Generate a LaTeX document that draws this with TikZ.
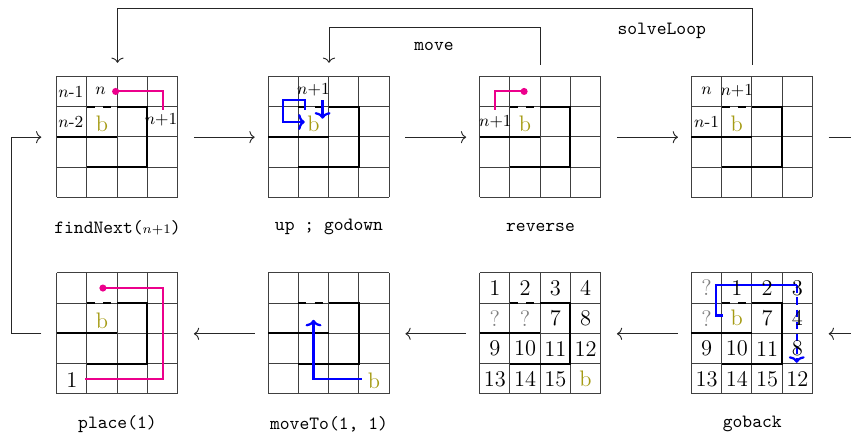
\documentclass[tikz,border=0pt]{standalone}
\usetikzlibrary{arrows.meta}
\definecolor{magcol}{RGB}{236,0,140}
\definecolor{bcol}{RGB}{165,155,20}
\definecolor{qgray}{RGB}{128,128,128}
\tikzset{
  gridbox/.style={draw=none, minimum size=64.7pt, inner sep=0pt},
  cellline/.style={draw=black!75, line width=0.5pt},
  wallline/.style={draw=black, line width=1.1pt},
  walldash/.style={wallline, dash pattern=on 4.2pt off 4.5pt},
  magpath/.style={draw=magcol, line width=1.1pt},
  bluesolid/.style={draw=blue, line width=1.2pt},
  bluepath/.style={bluesolid, -{To[width=8.5pt,length=3.5pt]}},
  nlab/.style={font=\small, inner sep=0pt},
  bigtxt/.style={font=\large, inner sep=0pt},
  caption/.style={font=\ttfamily, inner sep=0pt},
  flow/.style={draw=black!85, line width=0.5pt},
  flowarrow/.style={flow, -{To[width=6.5pt,length=2.8pt]}},
}
\newcommand{\drawcells}{%
  \foreach \k in {0,...,4} {\draw[cellline] (\k,0) -- (\k,4); \draw[cellline] (0,\k) -- (4,\k);}
  \draw[wallline] (2,1) -- (3,1) -- (3,3) -- (1,3);
  \draw[wallline] (0,2) -- (2,2);
  \draw[walldash] (1,1) -- (2,1);
}
\begin{document}
\begin{tikzpicture}[x=0.5347pt, y=-0.5347pt]
\useasboundingbox (0,0) rectangle (851,435);
\clip (0,0) rectangle (851,435);

% grid boxes
\node[gridbox] (g1) at (117.5,137.2) {};
\node[gridbox] (g2) at (329,137.2) {};
\node[gridbox] (g3) at (540.5,137.2) {};
\node[gridbox] (g4) at (752.3,137.2) {};
\node[gridbox] (g5) at (117.5,333.8) {};
\node[gridbox] (g6) at (329,333.8) {};
\node[gridbox] (g7) at (540.5,333.8) {};
\node[gridbox] (g8) at (752.3,333.8) {};

% captions
\node[caption] (c1) at (117.5,228) {findNext($\scriptstyle n{+}1$)};
\node[caption] (c2) at (329,227) {up ; godown};
\node[caption] (c3) at (540.5,227) {reverse};
\node[caption] (c5) at (117.5,424) {place(1)};
\node[caption] (c6) at (329,424.5) {moveTo(1, 1)};
\node[caption] (c8) at (752.3,423.5) {goback};
\node[caption] (lmove) at (434,46.7) {move};
\node[caption] (lsolve) at (661.7,30.7) {solveLoop};

% grid 1
\begin{scope}[shift={(g1.north west)}, x=16.18pt, y=-16.18pt]
\drawcells
\draw[magpath] (1.95,0.5) -- (3.5,0.5) -- (3.5,1.1);
\fill[magcol] (1.95,0.5) circle (1.9pt);
\node[nlab] (g1a) at (0.47,0.5) {$n$-1};
\node[nlab] (g1b) at (1.45,0.48) {$n$};
\node[nlab] (g1c) at (0.47,1.5) {$n$-2};
\node[nlab] (g1d) at (3.45,1.45) {$n{+}1$};
\node[bigtxt, text=bcol] (g1e) at (1.5,1.57) {b};
\end{scope}

% grid 2
\begin{scope}[shift={(g2.north west)}, x=16.18pt, y=-16.18pt]
\drawcells
\node[nlab] (g2a) at (1.5,0.45) {$n{+}1$};
\node[bigtxt, text=bcol] (g2b) at (1.5,1.57) {b};
\draw[bluepath] (1.21,1.12) -- (1.21,0.79) -- (0.5,0.79) -- (0.5,1.51) -- (1.21,1.51);
\draw[bluepath] (1.8,0.79) -- (1.8,1.4);
\end{scope}

% grid 3
\begin{scope}[shift={(g3.north west)}, x=16.18pt, y=-16.18pt]
\drawcells
\draw[magpath] (1.47,0.5) -- (0.5,0.5) -- (0.5,1.1);
\fill[magcol] (1.47,0.5) circle (1.9pt);
\node[nlab] (g3a) at (0.52,1.5) {$n{+}1$};
\node[bigtxt, text=bcol] (g3b) at (1.5,1.57) {b};
\end{scope}

% grid 4
\begin{scope}[shift={(g4.north west)}, x=16.18pt, y=-16.18pt]
\drawcells
\node[nlab] (g4a) at (0.5,0.48) {$n$};
\node[nlab] (g4b) at (1.5,0.48) {$n{+}1$};
\node[nlab] (g4c) at (0.5,1.5) {$n$-1};
\node[bigtxt, text=bcol] (g4d) at (1.5,1.57) {b};
\end{scope}

% grid 5
\begin{scope}[shift={(g5.north west)}, x=16.18pt, y=-16.18pt]
\drawcells
\draw[magpath] (1.53,0.5) -- (3.5,0.5) -- (3.5,3.5) -- (0.93,3.5);
\fill[magcol] (1.53,0.5) circle (1.9pt);
\node[bigtxt] (g5a) at (0.5,3.53) {1};
\node[bigtxt, text=bcol] (g5b) at (1.5,1.57) {b};
\end{scope}

% grid 6
\begin{scope}[shift={(g6.north west)}, x=16.18pt, y=-16.18pt]
\drawcells
\draw[bluepath] (3.1,3.5) -- (1.5,3.5) -- (1.5,1.55);
\node[bigtxt, text=bcol] (g6a) at (3.5,3.55) {b};
\end{scope}

% grid 7
\begin{scope}[shift={(g7.north west)}, x=16.18pt, y=-16.18pt]
\drawcells
\foreach \x/\y/\t/\c in {0/0/1/black,1/0/2/black,2/0/3/black,3/0/4/black,
  0/1/?/qgray,1/1/?/qgray,2/1/7/black,3/1/8/black,
  0/2/9/black,1/2/10/black,2/2/11/black,3/2/12/black,
  0/3/13/black,1/3/14/black,2/3/15/black,3/3/b/bcol}
  {\node[bigtxt, text=\c] (g7c\x\y) at (\x+0.5,\y+0.5) {\t};}
\end{scope}

% grid 8
\begin{scope}[shift={(g8.north west)}, x=16.18pt, y=-16.18pt]
\drawcells
\draw[bluesolid] (1.05,1.41) -- (0.8,1.41) -- (0.8,0.41) -- (3.48,0.41);
\draw[bluepath, dash pattern=on 4pt off 2.5pt] (3.48,0.41) -- (3.48,2.97);
\foreach \x/\y/\t/\c in {0/0/?/qgray,1/0/1/black,2/0/2/black,3/0/3/black,
  0/1/?/qgray,1/1/b/bcol,2/1/7/black,3/1/4/black,
  0/2/9/black,1/2/10/black,2/2/11/black,3/2/8/black,
  0/3/13/black,1/3/14/black,2/3/15/black,3/3/12/black}
  {\node[bigtxt, text=\c] (g8c\x\y) at (\x+0.5,\y+0.5) {\t};}
\end{scope}

% flow connectors
\coordinate (edgeA) at (880,137.2);
\coordinate (edgeB) at (880,333.8);
\draw[flowarrow, shorten <=8.3pt, shorten >=7.2pt] (g1) -- (g2);
\draw[flowarrow, shorten <=8.3pt, shorten >=7.2pt] (g2) -- (g3);
\draw[flowarrow, shorten <=8.3pt, shorten >=7.2pt] (g3) -- (g4);
\draw[flow, shorten <=8.3pt] (g4.east) -- (edgeA);
\draw[flowarrow, shorten >=8.3pt] (edgeB) -- (g8.east);
\draw[flowarrow, shorten <=7.2pt, shorten >=8.3pt] (g8) -- (g7);
\draw[flowarrow, shorten <=7.2pt, shorten >=8.3pt] (g7) -- (g6);
\draw[flowarrow, shorten <=7.2pt, shorten >=8.3pt] (g6) -- (g5);
\draw[flowarrow] ([xshift=-8.2pt]g5.west) -- ++(-30,0) |- ([xshift=-8.2pt]g1.west);
\draw[flowarrow] ([yshift=6.3pt]g4.north) -- ++(0,-56) -| ([yshift=7.2pt]g1.north);
\draw[flowarrow] ([yshift=6.3pt]g3.north) -- ++(0,-37.3) -| ([yshift=7.2pt]g2.north);
\end{tikzpicture}
\end{document}
